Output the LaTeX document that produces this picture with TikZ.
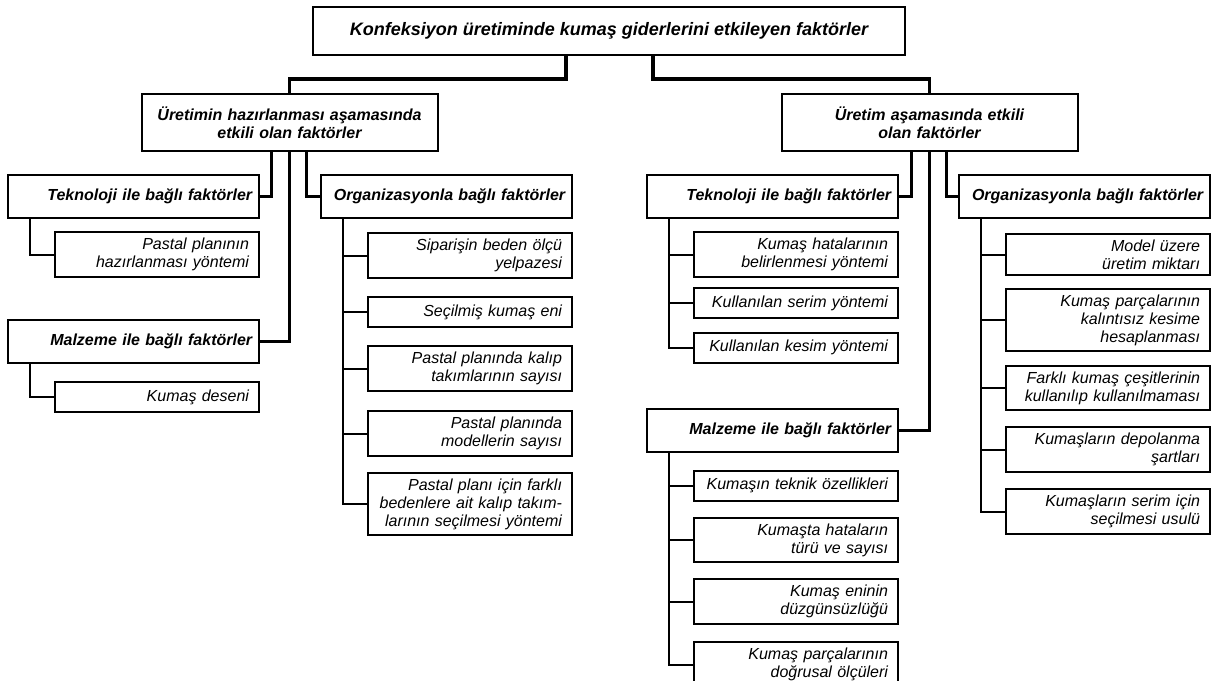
\documentclass[tikz,border=0pt]{standalone}
\usepackage{fontspec}
\setmainfont{Liberation Sans}
\usepackage{tikz}
\usetikzlibrary{calc}

\begin{document}
\begin{tikzpicture}[
        x=0.75pt, y=-0.75pt,
        box/.style={draw, line width=1.5pt, fill=white, inner xsep=7.5pt, inner ysep=4.5pt,
                    font=\fontsize{12}{13.5}\selectfont\itshape},
        rootbox/.style={box, minimum width=444pt, minimum height=36pt,
                        font=\fontsize{13.5}{15}\selectfont\bfseries\itshape},
        phasebox/.style={box, text width=207pt, align=center, minimum height=42.75pt,
                         font=\fontsize{12}{13.5}\selectfont\bfseries\itshape},
        groupbox/.style={box, text width=178pt, inner xsep=5pt, align=right, minimum height=32.25pt,
                         font=\fontsize{12}{13.5}\selectfont\bfseries\itshape},
        itembox/.style={box, text width=138pt, align=right, minimum height=22.5pt},
        trunk/.style={line width=2.6pt},
        twig/.style={line width=1.5pt}
    ]
    \useasboundingbox (0,0) rectangle (1213,681);
    % Top levels
    \node[rootbox] (root) at (609,31)
        {Konfeksiyon üretiminde kumaş giderlerini etkileyen faktörler};
    \node[phasebox] (L1) at (289.5,122.5)
        {Üretimin hazırlanması aşamasında\\etkili olan faktörler};
    \node[phasebox] (R1) at (929.5,122.5)
        {Üretim aşamasında etkili\\olan faktörler};
    % Factor groups
    \node[groupbox] (tekL) at (133.5,196.5) {Teknoloji ile bağlı faktörler};
    \node[groupbox] (orgL) at (446.5,196.5) {Organizasyonla bağlı faktörler};
    \node[groupbox] (malzL) at (133.5,341.5) {Malzeme ile bağlı faktörler};
    \node[groupbox] (tekR) at (772.5,196.5) {Teknoloji ile bağlı faktörler};
    \node[groupbox] (orgR) at (1084.5,196.5) {Organizasyonla bağlı faktörler};
    \node[groupbox] (malzR) at (772.5,430.5) {Malzeme ile bağlı faktörler};
    % Single factors
    \foreach \n/\x/\y/\t in {
        tekLa/157/254.5/{Pastal planının\\hazırlanması yöntemi},
        malzLa/157/397/{Kumaş deseni},
        orgLa/470/255.5/{Siparişin beden ölçü\\yelpazesi},
        orgLb/470/312/{Seçilmiş kumaş eni},
        orgLc/470/368.5/{Pastal planında kalıp\\takımlarının sayısı},
        orgLd/470/433.5/{Pastal planında\\modellerin sayısı},
        orgLe/470/504/{Pastal planı için farklı\\bedenlere ait kalıp takım-\\larının seçilmesi yöntemi},
        tekRa/796/254.5/{Kumaş hatalarının\\belirlenmesi yöntemi},
        tekRb/796/303/{Kullanılan serim yöntemi},
        tekRc/796/347.5/{Kullanılan kesim yöntemi},
        orgRa/1108/254.5/{Model üzere\\üretim miktarı},
        orgRb/1108/320/{Kumaş parçalarının\\kalıntısız kesime\\hesaplanması},
        orgRc/1108/388/{Farklı kumaş çeşitlerinin\\kullanılıp kullanılmaması},
        orgRd/1108/449.5/{Kumaşların depolanma\\şartları},
        orgRe/1108/511.5/{Kumaşların serim için\\seçilmesi usulü},
        malzRa/796/485.5/{Kumaşın teknik özellikleri},
        malzRb/796/540/{Kumaşta hataların\\türü ve sayısı},
        malzRc/796/601.5/{Kumaş eninin\\düzgünsüzlüğü},
        malzRd/796/664.5/{Kumaş parçalarının\\doğrusal ölçüleri}}
        \node[itembox] (\n) at (\x,\y) {\t};
    % Thick links
    \draw[trunk] ($(root.south)+(-43,0)$) -- ++(0,23) -| (L1.north);
    \draw[trunk] ($(root.south)+(44,0)$) -- ++(0,23) -| (R1.north);
    \foreach \p/\a/\b/\c in {L1/tekL/malzL/orgL, R1/tekR/malzR/orgR} {
        \draw[trunk] ($(\p.south)+(-18,0)$) |- (\a.east);
        \draw[trunk] (\p.south) |- (\b.east);
        \draw[trunk] ($(\p.south)+(17,0)$) |- (\c.west);
    }
    % Thin links
    \foreach \g/\n in {tekL/tekLa, malzL/malzLa, orgL/orgLa, orgL/orgLb, orgL/orgLc,
                       orgL/orgLd, orgL/orgLe, tekR/tekRa, tekR/tekRb, tekR/tekRc,
                       orgR/orgRa, orgR/orgRb, orgR/orgRc, orgR/orgRd, orgR/orgRe,
                       malzR/malzRa, malzR/malzRb, malzR/malzRc, malzR/malzRd}
        \draw[twig] ($(\g.south west)+(23,0)$) |- (\n.west);
\end{tikzpicture}
\end{document}
